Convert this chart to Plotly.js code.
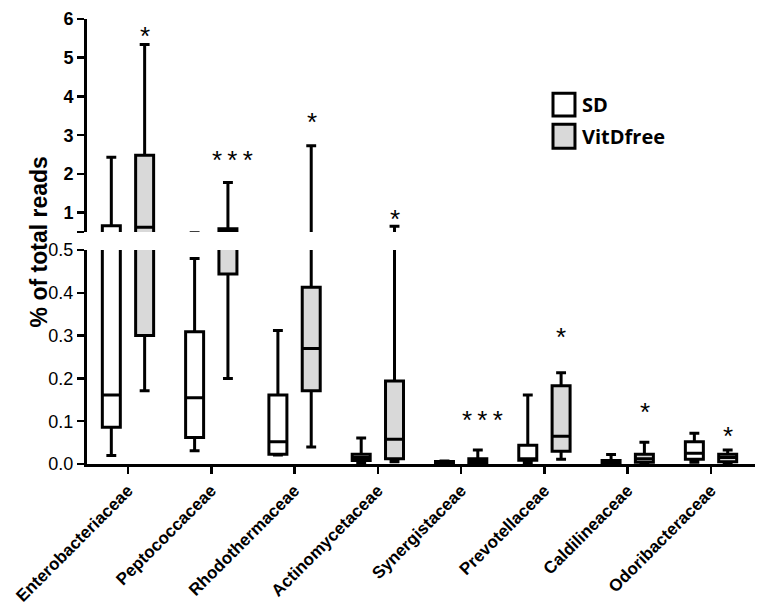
<!DOCTYPE html>
<html>
<head>
<meta charset="utf-8">
<script src="https://cdn.plot.ly/plotly-3.0.1.min.js"></script>
<style>html,body{margin:0;padding:0;background:#fff;}#chart{width:767px;height:610px;}</style>
</head>
<body>
<div id="chart"></div>
<script>
const categories = ["Enterobacteriaceae","Peptococcaceae","Rhodothermaceae","Actinomycetaceae","Synergistaceae","Prevotellaceae","Caldilineaceae","Odoribacteraceae"];

const sdLow    = [0.020, 0.031, 0.021, 0.003, 0.001, 0.003, 0.001, 0.004];
const sdQ1     = [0.086, 0.062, 0.023, 0.008, 0.002, 0.009, 0.002, 0.011];
const sdMedian = [0.161, 0.155, 0.052, 0.015, 0.003, 0.012, 0.004, 0.025];
const sdQ3     = [0.660, 0.309, 0.161, 0.023, 0.006, 0.044, 0.008, 0.052];
const sdHigh   = [2.43,  0.480, 0.312, 0.061, 0.007, 0.161, 0.022, 0.072];

const vdLow    = [0.171, 0.200, 0.040, 0.005, 0.001, 0.011, 0.002, 0.002];
const vdQ1     = [0.300, 0.444, 0.171, 0.012, 0.002, 0.030, 0.004, 0.005];
const vdMedian = [0.620, 0.530, 0.270, 0.058, 0.005, 0.065, 0.012, 0.015];
const vdQ3     = [2.48,  0.585, 0.413, 0.194, 0.012, 0.183, 0.023, 0.023];
const vdHigh   = [5.34,  1.78,  2.73,  0.650, 0.033, 0.213, 0.051, 0.033];

const sigText  = ["*", "***", "*", "*", "***", "*", "*", "*"];
const sigY     = [5.62, 2.42, 3.39, 0.88, 0.107, 0.301, 0.126, 0.070];

const seriesNames = ["SD", "VitDfree"];
const lowerTicks = [0, 0.1, 0.2, 0.3, 0.4, 0.5];
const upperTicks = [0.5, 1, 2, 3, 4, 5, 6];
const upperTickText = ["", "1", "2", "3", "4", "5", "6"];

const BREAK = 0.5;
const FONT = "Arial, 'Liberation Sans', sans-serif";
const fillColors = ["#ffffff", "#d9d9d9"];
const groups = ["sd", "vd"];
const lineSpec = {color: "#000000", width: 3};

function boxTrace(i, lo, q1, med, q3, hi, yaxis) {
  return {
    type: "box", name: seriesNames[i], x: categories,
    lowerfence: lo, q1: q1, median: med, q3: q3, upperfence: hi,
    boxpoints: false, fillcolor: fillColors[i], line: lineSpec,
    whiskerwidth: 0.55, yaxis: yaxis, xaxis: "x",
    offsetgroup: groups[i], alignmentgroup: "all",
    showlegend: false, hoverinfo: "skip"
  };
}

const data = [];
["y", "y2"].forEach(function (ax) {
  data.push(boxTrace(0, sdLow, sdQ1, sdMedian, sdQ3, sdHigh, ax));
  data.push(boxTrace(1, vdLow, vdQ1, vdMedian, vdQ3, vdHigh, ax));
});

const tickFont = {family: FONT, size: 18, color: "#000"};

const annotations = categories.map(function (c, i) {
  const upper = sigY[i] > BREAK;
  const txt = sigText[i].split("").join("\u2009");
  return {
    x: c, xref: "x", y: sigY[i], yref: upper ? "y2" : "y",
    text: txt, showarrow: false, xanchor: "center", yanchor: "middle",
    xshift: sigText[i].length > 1 ? 21 : 17, yshift: -2,
    font: {family: FONT, size: 26, color: "#000"}
  };
});

annotations.push({
  text: "<b>% of total reads</b>", xref: "paper", yref: "paper", x: -0.072, y: 0.50,
  textangle: -90, showarrow: false, xanchor: "center", yanchor: "middle",
  font: {family: FONT, size: 23, color: "#000"}
});

// legend
const legendShapes = [];
const legY = [[0.782, 0.833], [0.7094, 0.7634]];
seriesNames.forEach(function (n, i) {
  legendShapes.push({
    type: "rect", xref: "paper", yref: "paper",
    x0: 0.6976, x1: 0.7305, y0: legY[i][0], y1: legY[i][1],
    fillcolor: fillColors[i], line: {color: "#000", width: 3}
  });
  annotations.push({
    text: "<b>" + n + "</b>", xref: "paper", yref: "paper",
    x: 0.7385, y: (legY[i][0] + legY[i][1]) / 2, xanchor: "left", yanchor: "middle",
    showarrow: false, font: {family: "'Open Sans', sans-serif", size: 20, color: "#000"}
  });
});

const layout = {
  width: 767, height: 610,
  margin: {l: 87, r: 12, t: 19, b: 146},
  paper_bgcolor: "#fff", plot_bgcolor: "rgba(0,0,0,0)",
  font: {family: FONT},
  boxmode: "group", boxgap: 0.2, boxgroupgap: 0.46,
  showlegend: false,
  xaxis: {
    type: "category", range: [-0.492, 7.528], anchor: "y",
    showline: true, linewidth: 3, linecolor: "#000",
    ticks: "outside", ticklen: 7, tickwidth: 2.5, tickcolor: "#000",
    showgrid: false, zeroline: false, tickangle: -45,
    tickfont: {family: FONT, size: 17, color: "#000"},
    tickprefix: "<b>", ticksuffix: "</b>"
  },
  yaxis: {
    domain: [0, 0.4809], range: [0, BREAK], anchor: "x",
    tickvals: lowerTicks, tickformat: ".1f",
    showline: true, linewidth: 3, linecolor: "#000",
    ticks: "outside", ticklen: 7, tickwidth: 2.5, tickcolor: "#000",
    showgrid: false, zeroline: false, tickfont: tickFont,
    tickprefix: "<b>", ticksuffix: "</b>"
  },
  yaxis2: {
    domain: [0.5213, 1], range: [BREAK, 6], anchor: "x",
    tickvals: upperTicks, ticktext: upperTickText.map(function (t) { return t ? "<b>" + t + "</b>" : ""; }),
    showline: true, linewidth: 3, linecolor: "#000",
    ticks: "outside", ticklen: 7, tickwidth: 2.5, tickcolor: "#000",
    showgrid: false, zeroline: false, tickfont: tickFont
  },
  shapes: legendShapes,
  annotations: annotations
};

Plotly.newPlot("chart", data, layout, {staticPlot: true, displayModeBar: false});
</script>
</body>
</html>
